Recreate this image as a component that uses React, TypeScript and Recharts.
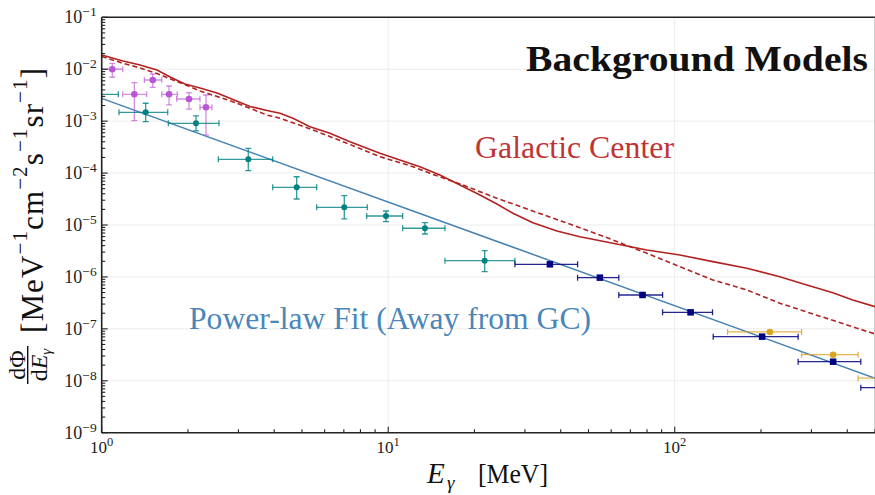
import React from 'react';
import {
  ComposedChart,
  XAxis,
  YAxis,
  Line,
  Scatter,
  ErrorBar,
  CartesianGrid,
  ReferenceLine,
} from 'recharts';

const FONT = '"Liberation Serif", "Times New Roman", serif';

// ---- Galactic Center model (solid) ----
const gcSolidX = [1.0, 1.187, 1.361, 1.56, 1.732, 1.953, 2.203, 2.526, 2.872, 3.293, 3.775, 4.191, 4.652, 5.333, 6.262, 7.354, 9.357, 12.9, 15.15, 17.8, 20.9, 23.96, 27.24, 31.99, 38.8, 46.67, 60.83, 79.93, 104.2, 135.8, 178.5, 232.7, 289.1, 356.3, 418.4, 500];
const gcSolidY = [1.88e-2, 1.44e-2, 1.21e-2, 9.67e-3, 7.09e-3, 5.2e-3, 4.35e-3, 3.49e-3, 2.61e-3, 1.92e-3, 1.6e-3, 1.42e-3, 1.14e-3, 7.82e-4, 5.84e-4, 4.02e-4, 2.4e-4, 1.33e-4, 9.19e-5, 5.9e-5, 3.79e-5, 2.54e-5, 1.68e-5, 1.11e-5, 7.67e-6, 5.96e-6, 4.45e-6, 3.3e-6, 2.65e-6, 1.97e-6, 1.47e-6, 1.01e-6, 7.0e-7, 4.97e-7, 3.6e-7, 2.67e-7];

// ---- Galactic Center model (dashed) ----
const gcDashX = [1.0, 1.187, 1.361, 1.56, 1.774, 1.985, 2.203, 2.872, 3.293, 3.775, 4.191, 5.463, 7.178, 9.357, 12.2, 13.98, 18.23, 23.96, 31.22, 46.67, 60.83, 79.93, 104.2, 135.8, 178.5, 232.7, 500];
const gcDashY = [1.76e-2, 1.3e-2, 1.06e-2, 8.27e-3, 6.2e-3, 4.86e-3, 3.81e-3, 2.37e-3, 1.77e-3, 1.31e-3, 1.14e-3, 6.76e-4, 3.75e-4, 2.07e-4, 1.33e-4, 9.9e-5, 5.9e-5, 3.27e-5, 1.95e-5, 8.88e-6, 5.15e-6, 2.85e-6, 1.58e-6, 8.74e-7, 5.61e-7, 3.11e-7, 7.97e-8];

// ---- Power-law fit (away from GC) ----
const powerX = [1, 500];
const powerY = [2.75e-3, 1.12e-8];

// ---- Purple data ----
const purpleX = [1.089, 1.3, 1.507, 1.718, 2.017, 2.312];
const purpleXLo = [0.99, 1.184, 1.409, 1.62, 1.827, 2.203];
const purpleXHi = [1.184, 1.436, 1.62, 1.836, 2.203, 2.427];
const purpleY = [1.0e-2, 3.29e-3, 6.2e-3, 3.29e-3, 2.67e-3, 1.85e-3];
const purpleYLo = [7.0e-3, 1.02e-3, 4.49e-3, 2.05e-3, 1.71e-3, 5.4e-4];
const purpleYHi = [1.3e-2, 5.5e-3, 8.1e-3, 4.75e-3, 3.53e-3, 3.19e-3];

// ---- Teal data ----
const tealX = [0.9, 1.424, 2.134, 3.248, 4.792, 7.025, 9.82, 13.43, 21.71];
const tealXLo = [0.72, 1.149, 1.708, 2.553, 3.952, 5.627, 8.41, 11.23, 15.78];
const tealXHi = [1.143, 1.7, 2.567, 3.952, 5.627, 8.451, 11.23, 15.78, 27.68];
const tealY = [3.29e-3, 1.48e-3, 9.1e-4, 1.84e-4, 5.32e-5, 2.19e-5, 1.49e-5, 8.65e-6, 2.06e-6];
const tealYLo = [2.2e-3, 9.8e-4, 6.47e-4, 1.11e-4, 3.17e-5, 1.31e-5, 1.16e-5, 6.71e-6, 1.26e-6];
const tealYHi = [4.6e-3, 2.21e-3, 1.26e-3, 3.0e-4, 8.5e-5, 3.67e-5, 1.86e-5, 1.11e-5, 3.2e-6];

// ---- Navy data ----
const navyX = [36.67, 54.8, 77.2, 113.6, 201.8, 357.1, 560];
const navyXLo = [27.68, 45.81, 63.8, 90.7, 136.2, 269.6, 446.1];
const navyXHi = [45.81, 63.8, 90.7, 135.5, 269.6, 446.1, 700];
const navyY = [1.75e-6, 9.68e-7, 4.49e-7, 2.08e-7, 7.07e-8, 2.33e-8, 7.37e-9];
const navyYLo = [1.63e-6, 9.0e-7, 4.2e-7, 1.94e-7, 6.6e-8, 2.17e-8, 6.9e-9];
const navyYHi = [1.88e-6, 1.04e-6, 4.8e-7, 2.23e-7, 7.6e-8, 2.5e-8, 7.9e-9];

// ---- Orange data ----
const orangeX = [214.8, 357.1, 560];
const orangeXLo = [152.9, 277.1, 436.5];
const orangeXHi = [277.1, 436.5, 700];
const orangeY = [8.71e-8, 3.18e-8, 1.12e-8];
const orangeYLo = [8.2e-8, 3.0e-8, 1.05e-8];
const orangeYHi = [9.2e-8, 3.36e-8, 1.19e-8];

// ---- Axis ticks ----
const xDecades = [1, 10, 100];
const yExponents = [-9, -8, -7, -6, -5, -4, -3, -2];
const mantissas = [1, 2, 3, 4, 5, 6, 7, 8, 9];
const xMax = 500;
const xTicks: number[] = [];
xDecades.forEach((d) => mantissas.forEach((m) => { if (m * d <= xMax) xTicks.push(m * d); }));
const yTicks: number[] = [];
yExponents.forEach((e) => mantissas.forEach((m) => yTicks.push(Number(`${m}e${e}`))));
yTicks.push(1e-1);
const xGrid = [10, 100];
const yGrid = [1e-8, 1e-7, 1e-6, 1e-5, 1e-4, 1e-3, 1e-2];

const toXY = (xs: number[], ys: number[]) => xs.map((x, i) => ({ x, y: ys[i] }));
const toRows = (xs: number[], xlo: number[], xhi: number[], ys: number[], ylo: number[], yhi: number[]) =>
  xs.map((x, i) => ({ x, y: ys[i], ex: [x - xlo[i], xhi[i] - x], ey: [ys[i] - ylo[i], yhi[i] - ys[i]] }));

const gcSolid = toXY(gcSolidX, gcSolidY);
const gcDash = toXY(gcDashX, gcDashY);
const power = toXY(powerX, powerY);
const purpleRows = toRows(purpleX, purpleXLo, purpleXHi, purpleY, purpleYLo, purpleYHi);
const tealRows = toRows(tealX, tealXLo, tealXHi, tealY, tealYLo, tealYHi);
const navyRows = toRows(navyX, navyXLo, navyXHi, navyY, navyYLo, navyYHi);
const orangeRows = toRows(orangeX, orangeXLo, orangeXHi, orangeY, orangeYLo, orangeYHi);

const isMajor = (v: number) => {
  const e = Math.log10(v);
  return Math.abs(e - Math.round(e)) < 1e-6;
};

const XTick = (props: any) => {
  const { x, y, payload } = props;
  const v = payload.value;
  const major = isMajor(v);
  const e = Math.round(Math.log10(v));
  return (
    <g>
      <line x1={x} x2={x} y1={y} y2={y - (major ? 6 : 3.5)} stroke="#222" strokeWidth={1.1} />
      {major && (
        <text x={x} y={y + 20.5} textAnchor="middle" fontFamily={FONT} fontSize={17} fill="#222">
          10<tspan dy={-7} fontSize={12.5}>{e}</tspan>
        </text>
      )}
    </g>
  );
};

const YTick = (props: any) => {
  const { x, y, payload } = props;
  const v = payload.value;
  const major = isMajor(v);
  const e = Math.round(Math.log10(v));
  return (
    <g>
      <line x1={x} x2={x + (major ? 6 : 3.5)} y1={y} y2={y} stroke="#222" strokeWidth={1.1} />
      {major && (
        <text x={x - 5} y={y + 5.8} textAnchor="end" fontFamily={FONT} fontSize={18} fill="#222">
          10<tspan dy={-7} fontSize={13.5}>{`\u2212${-e}`}</tspan>
        </text>
      )}
    </g>
  );
};

const dot = (color: string, r: number) => (p: any) => <circle cx={p.cx} cy={p.cy} r={r} fill={color} />;
const square = (color: string, s: number) => (p: any) => (
  <rect x={p.cx - s / 2} y={p.cy - s / 2} width={s} height={s} fill={color} />
);

const errBars = (color: string, opacity: number) => [
  <ErrorBar key="ex" dataKey="ex" direction="x" width={3} stroke={color} strokeWidth={1.3} strokeOpacity={opacity} />,
  <ErrorBar key="ey" dataKey="ey" direction="y" width={3} stroke={color} strokeWidth={1.3} strokeOpacity={opacity} />,
];

const clipCss = `
.recharts-scatter, .recharts-errorBars, .recharts-errorBar, .recharts-scatter-symbol { clip-path: url(#plotAreaClip); }
`;

export default function App() {
  return (
    <div style={{ position: 'absolute', left: 0, top: 0, width: 875, height: 495, background: '#fff' }}>
      <style>{clipCss}</style>
      <svg width={0} height={0} style={{ position: 'absolute' }}>
        <defs>
          <clipPath id="plotAreaClip" clipPathUnits="userSpaceOnUse">
            <rect x={101.7} y={17.3} width={773.3} height={415.4} />
          </clipPath>
        </defs>
      </svg>
      <ComposedChart width={875} height={495} margin={{ top: 17.3, right: 0, bottom: 0, left: 0 }}>
        <CartesianGrid stroke="#ececec" strokeWidth={1} horizontalValues={yGrid} verticalValues={xGrid} />
        <XAxis
          dataKey="x"
          type="number"
          scale="log"
          domain={[1, 500]}
          allowDataOverflow
          ticks={xTicks}
          interval={0}
          tick={(p: any) => <XTick {...p} />}
          tickLine={false}
          tickSize={0}
          tickMargin={0}
          axisLine={{ stroke: '#222', strokeWidth: 1.6 }}
          height={62.3}
        />
        <YAxis
          dataKey="y"
          type="number"
          scale="log"
          domain={[1e-9, 1e-1]}
          allowDataOverflow
          ticks={yTicks}
          interval={0}
          tick={(p: any) => <YTick {...p} />}
          tickLine={false}
          tickSize={0}
          tickMargin={0}
          axisLine={{ stroke: '#222', strokeWidth: 1.6 }}
          width={101.7}
        />
        <ReferenceLine y={1e-1} stroke="#222" strokeWidth={1.5} />
        <ReferenceLine x={500} stroke="#999" strokeWidth={1} />

        <Line data={gcSolid} dataKey="y" type="linear" stroke="#B22222" strokeWidth={1.6} dot={false} activeDot={false} isAnimationActive={false} />
        <Line data={gcDash} dataKey="y" type="linear" stroke="#B22222" strokeWidth={1.6} strokeDasharray="5 3" dot={false} activeDot={false} isAnimationActive={false} />
        <Line data={power} dataKey="y" type="linear" stroke="#4682B4" strokeWidth={1.5} dot={false} activeDot={false} isAnimationActive={false} />

        <Scatter className="plot-clipped" data={purpleRows} isAnimationActive={false} shape={dot('#BA55D3', 3.3)}>
          {errBars('#BA55D3', 0.65)}
        </Scatter>
        <Scatter className="plot-clipped" data={tealRows} isAnimationActive={false} shape={dot('#008080', 3)}>
          {errBars('#008080', 0.8)}
        </Scatter>
        <Scatter className="plot-clipped" data={orangeRows} isAnimationActive={false} shape={dot('#DAA520', 3.3)}>
          {errBars('#DAA520', 0.8)}
        </Scatter>
        <Scatter className="plot-clipped" data={navyRows} isAnimationActive={false} shape={square('#000080', 6.5)}>
          {errBars('#000080', 0.85)}
        </Scatter>

        {/* Title and annotations */}
        <text x={526} y={71} fontFamily={FONT} fontWeight="bold" fontSize={36} fill="#111" textLength={342} lengthAdjust="spacingAndGlyphs">
          Background Models
        </text>
        <text x={475} y={158.3} fontFamily={FONT} fontSize={32} fill="#BF3434" textLength={199} lengthAdjust="spacingAndGlyphs">
          Galactic Center
        </text>
        <text x={189} y={329} fontFamily={FONT} fontSize={32} fill="#4A86BA" textLength={402} lengthAdjust="spacingAndGlyphs">
          Power-law Fit (Away from GC)
        </text>

        {/* X axis label */}
        <text x={427} y={483.3} fontFamily={FONT} fontStyle="italic" fontSize={29} fill="#111">E</text>
        <text x={447} y={488.5} fontFamily={FONT} fontStyle="italic" fontSize={19} fill="#111">γ</text>
        <text x={478} y={483.3} fontFamily={FONT} fontSize={28} fill="#111" textLength={70} lengthAdjust="spacingAndGlyphs">[MeV]</text>

        {/* Y axis label */}
        <g transform="translate(43,225) rotate(-90)">
          <text x={-140} y={-18} textAnchor="middle" fontFamily={FONT} fontSize={24} fill="#111">dΦ</text>
          <line x1={-159} x2={-121} y1={-15.3} y2={-15.3} stroke="#111" strokeWidth={1.4} />
          <text x={-140} y={3.5} textAnchor="middle" fontFamily={FONT} fontSize={24} fill="#111">
            d<tspan fontStyle="italic">E</tspan>
            <tspan fontStyle="italic" fontSize={15} dy={4}>γ</tspan>
          </text>
          <text x={-108} y={0} fontFamily={FONT} fontSize={31} fill="#111" textLength={265} lengthAdjust="spacing">
            [MeV<tspan dy={-16} fontSize={21}>{'\u22121'}</tspan>
            <tspan dy={16}>cm</tspan>
            <tspan dy={-16} fontSize={21}>{'\u22122'}</tspan>
            <tspan dy={16}>s</tspan>
            <tspan dy={-16} fontSize={21}>{'\u22121'}</tspan>
            <tspan dy={16}>sr</tspan>
            <tspan dy={-16} fontSize={21}>{'\u22121'}</tspan>
            <tspan dy={16}>]</tspan>
          </text>
        </g>
      </ComposedChart>
    </div>
  );
}
